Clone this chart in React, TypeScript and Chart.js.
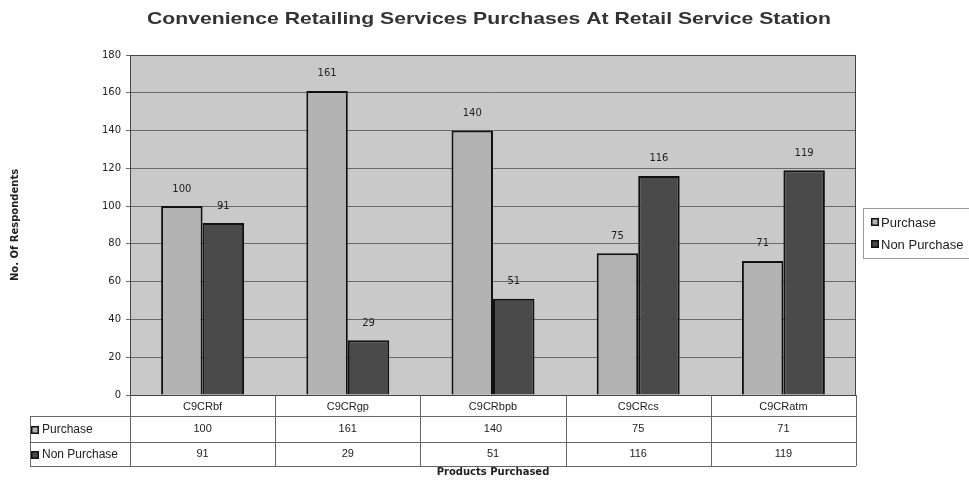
import React, { useEffect, useRef } from "react";
import { Chart, registerables } from "chart.js";

Chart.register(...registerables);

const TITLE = "Convenience Retailing Services Purchases At Retail Service Station";
const categories = ["C9CRbf", "C9CRgp", "C9CRbpb", "C9CRcs", "C9CRatm"];
const purchase = [100, 161, 140, 75, 71];
const nonPurchase = [91, 29, 51, 116, 119];
const seriesNames = ["Purchase", "Non Purchase"];
const yTitle = "No. Of Respondents";
const xTitle = "Products Purchased";

const FONT = "'Liberation Sans', Arial, sans-serif";
const WIDE = "'DejaVu Sans', sans-serif";
const PURCHASE_COLOR = "#b3b3b3";
const NON_COLOR = "#4a4a4a";
const EDGE = "#111111";

const tablePlugin = {
  id: "tablePlugin",
  beforeDraw(chart: any) {
    const { ctx, chartArea } = chart;
    ctx.save();
    ctx.fillStyle = "#c9c9c9";
    ctx.fillRect(chartArea.left, chartArea.top, chartArea.right - chartArea.left, chartArea.bottom - chartArea.top);
    ctx.font = `bold 17px ${FONT}`;
    ctx.fillStyle = "#333";
    ctx.textBaseline = "middle";
    ctx.textAlign = "center";
    const w = ctx.measureText(TITLE).width;
    const sx = 684 / w;
    ctx.translate(489, 19);
    ctx.scale(sx, 1);
    ctx.fillText(TITLE, 0, 0);
    ctx.restore();
  },
  afterDatasetsDraw(chart: any) {
    const { ctx, chartArea } = chart;
    ctx.save();
    ctx.font = `10px ${WIDE}`;
    ctx.fillStyle = "#222";
    ctx.textAlign = "center";
    ctx.textBaseline = "middle";
    chart.data.datasets.forEach((ds: any, i: number) => {
      const meta = chart.getDatasetMeta(i);
      meta.data.forEach((bar: any, j: number) => {
        ctx.fillText(String(ds.data[j]), bar.x, bar.y - 17);
      });
    });
    ctx.strokeStyle = "#444";
    ctx.lineWidth = 1;
    ctx.strokeRect(chartArea.left + 0.5, chartArea.top + 0.5, chartArea.right - chartArea.left - 1, chartArea.bottom - chartArea.top);
    ctx.restore();
  },
  afterDraw(chart: any) {
    const { ctx, chartArea } = chart;
    const xs = chart.scales.x;
    const left = chartArea.left;
    const right = chartArea.right;
    const r0 = chartArea.bottom;
    const r1 = r0 + 21;
    const r2 = r1 + 26;
    const r3 = r2 + 24;
    const tableLeft = 30;
    const colW = (right - left) / categories.length;
    ctx.save();
    ctx.strokeStyle = "#666";
    ctx.lineWidth = 1;
    const hline = (y: number, x0: number, x1: number) => {
      ctx.beginPath();
      ctx.moveTo(x0, Math.round(y) + 0.5);
      ctx.lineTo(x1, Math.round(y) + 0.5);
      ctx.stroke();
    };
    const vline = (x: number, y0: number, y1: number) => {
      ctx.beginPath();
      ctx.moveTo(Math.round(x) + 0.5, y0);
      ctx.lineTo(Math.round(x) + 0.5, y1);
      ctx.stroke();
    };
    hline(r1, tableLeft, right);
    hline(r2, tableLeft, right);
    hline(r3, tableLeft, right);
    vline(tableLeft, r1, r3);
    for (let i = 0; i <= categories.length; i++) {
      vline(left + i * colW, r0, r3);
    }
    ctx.font = `11px ${FONT}`;
    ctx.fillStyle = "#222";
    ctx.textAlign = "center";
    ctx.textBaseline = "middle";
    categories.forEach((c, i) => {
      const cx = xs.getPixelForValue(i);
      ctx.fillText(c, cx, (r0 + r1) / 2 + 1);
      ctx.fillText(String(purchase[i]), cx, (r1 + r2) / 2);
      ctx.fillText(String(nonPurchase[i]), cx, (r2 + r3) / 2);
    });
    const square = (x: number, y: number, color: string) => {
      ctx.fillStyle = EDGE;
      ctx.fillRect(x, y - 4, 8, 8);
      ctx.fillStyle = color;
      ctx.fillRect(x + 1.5, y - 2.5, 5, 5);
    };
    const rows = [
      { name: seriesNames[0], color: PURCHASE_COLOR, y: (r1 + r2) / 2 + 1 },
      { name: seriesNames[1], color: NON_COLOR, y: (r2 + r3) / 2 + 1 },
    ];
    ctx.textAlign = "left";
    ctx.font = `12px ${FONT}`;
    rows.forEach((r) => {
      square(31, r.y, r.color);
      ctx.fillStyle = "#222";
      ctx.fillText(r.name, 42, r.y);
    });
    ctx.font = `bold 10px ${WIDE}`;
    ctx.textAlign = "center";
    ctx.fillStyle = "#222";
    ctx.fillText(xTitle, (left + right) / 2, 472);
    ctx.strokeStyle = "#999";
    ctx.strokeRect(863.5, 208.5, 110, 50);
    const legendItems = [
      { name: seriesNames[0], color: PURCHASE_COLOR, y: 222 },
      { name: seriesNames[1], color: NON_COLOR, y: 244 },
    ];
    ctx.font = `13px ${FONT}`;
    ctx.textAlign = "left";
    legendItems.forEach((it) => {
      square(871, it.y, it.color);
      ctx.fillStyle = "#222";
      ctx.fillText(it.name, 881, it.y + 1);
    });
    ctx.restore();
  },
};

export default function App() {
  const ref = useRef<HTMLCanvasElement | null>(null);
  useEffect(() => {
    document.body.style.margin = "0";
    const canvas = ref.current;
    if (!canvas) return;
    const chart = new Chart(canvas, {
      type: "bar",
      data: {
        labels: categories,
        datasets: [
          {
            label: seriesNames[0],
            data: purchase,
            backgroundColor: PURCHASE_COLOR,
            borderColor: EDGE,
            borderWidth: 2,
            borderSkipped: "bottom",
          },
          {
            label: seriesNames[1],
            data: nonPurchase,
            backgroundColor: NON_COLOR,
            borderColor: EDGE,
            borderWidth: 2,
            borderSkipped: "bottom",
          },
        ],
      },
      options: {
        responsive: false,
        animation: false,
        devicePixelRatio: 1,
        layout: { padding: { left: 0, right: 113, top: 55, bottom: 85 } },
        datasets: { bar: { categoryPercentage: 1 / 1.75, barPercentage: 1 } },
        plugins: {
          legend: { display: false },
          tooltip: { enabled: false },
          title: { display: false },
        },
        scales: {
          x: {
            ticks: { display: false },
            grid: { display: false, drawTicks: false },
            border: { display: true, color: "#222", width: 1 },
          },
          y: {
            min: 0,
            max: 180,
            afterFit: (s: any) => {
              s.width = 130;
            },
            ticks: {
              stepSize: 20,
              color: "#222",
              font: { family: WIDE, size: 10 },
              padding: 5,
            },
            grid: { color: "#6a6a6a", tickLength: 4, lineWidth: 1 },
            border: { display: true, color: "#333" },
            title: {
              display: true,
              text: yTitle,
              color: "#222",
              font: { family: WIDE, size: 10, weight: "bold" },
              padding: { top: 9, bottom: 0 },
            },
          },
        },
      },
      plugins: [tablePlugin],
    });
    return () => chart.destroy();
  }, []);
  return <canvas ref={ref} width={969} height={480} style={{ display: "block" }} />;
}
